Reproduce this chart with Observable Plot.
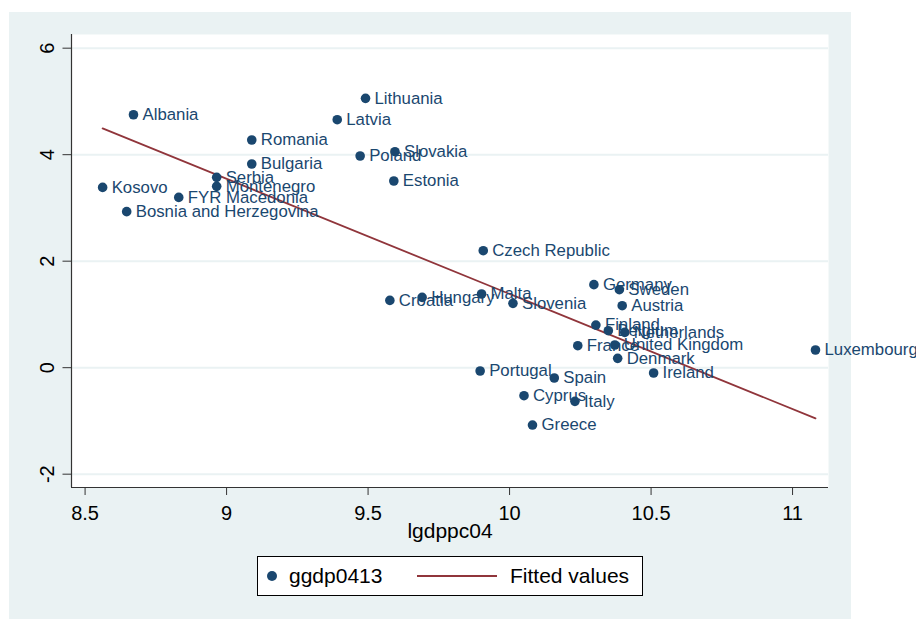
<!DOCTYPE html>
<html><head><meta charset="utf-8">
<script src="https://cdn.jsdelivr.net/npm/d3@7"></script>
<script src="https://cdn.jsdelivr.net/npm/@observablehq/plot@0.6"></script>
<style>
body{margin:0;background:#fff;font-family:"Liberation Sans",Arial,sans-serif;}
#wrap{position:relative;width:916px;height:619px;overflow:hidden;}
#bg{position:absolute;left:9px;top:12px;width:842px;height:607px;background:#eaf2f3;}
#chart{position:absolute;left:0;top:0;}
#legend{position:absolute;left:257px;top:556px;width:386px;height:40px;background:#fff;border:1px solid #000;box-sizing:border-box;font-size:21px;color:#000;}
#legend .dot{position:absolute;left:9px;top:14px;width:10px;height:10px;border-radius:50%;background:#1a476f;}
#legend .t1{position:absolute;left:31px;top:7px;line-height:24px;}
#legend .ln{position:absolute;left:159px;top:18px;width:80px;height:2px;background:#90353b;}
#legend .t2{position:absolute;left:252px;top:7px;line-height:24px;}
</style>
</head><body>
<div id="wrap"><div id="bg"></div><div id="chart"></div>
<div id="legend"><div class="dot"></div><span class="t1">ggdp0413</span><div class="ln"></div><span class="t2">Fitted values</span></div>
</div>
<script>
const countries = ["Albania","Kosovo","Bosnia and Herzegovina","FYR Macedonia","Serbia","Montenegro","Romania","Bulgaria","Lithuania","Latvia","Poland","Slovakia","Estonia","Croatia","Hungary","Czech Republic","Malta","Slovenia","Germany","Sweden","Austria","Finland","Belgium","Netherlands","France","United Kingdom","Denmark","Luxembourg","Portugal","Spain","Ireland","Cyprus","Italy","Greece"];
const lgdppc04 = [8.671,8.562,8.647,8.831,8.965,8.965,9.089,9.089,9.491,9.391,9.472,9.595,9.591,9.577,9.691,9.907,9.901,10.012,10.298,10.388,10.398,10.305,10.349,10.407,10.241,10.372,10.382,11.081,9.896,10.158,10.509,10.051,10.231,10.081];
const ggdp0413 = [4.75,3.386,2.93,3.198,3.574,3.405,4.276,3.825,5.058,4.657,3.975,4.056,3.506,1.264,1.32,2.197,1.384,1.208,1.559,1.465,1.164,0.80,0.695,0.663,0.413,0.426,0.175,0.332,-0.062,-0.194,-0.10,-0.526,-0.632,-1.077];
const fitX = [8.562, 11.081];
const fitY = [4.494, -0.952];
const xTicks = [8.5, 9, 9.5, 10, 10.5, 11];
const yTicks = [-2, 0, 2, 4, 6];

const pts = countries.map((c,i)=>({name:c, x:lgdppc04[i], y:ggdp0413[i]}));
const fit = fitX.map((x,i)=>({x, y:fitY[i]}));
const xDom = [8.452, 11.127], yDom = [-2.25, 6.257];

const plot = Plot.plot({
  width: 916, height: 619,
  marginLeft: 71, marginRight: 88, marginTop: 34, marginBottom: 132,
  style: {background: "transparent", fontFamily: "'Liberation Sans', Arial, sans-serif", overflow: "visible"},
  x: {domain: xDom},
  y: {domain: yDom},
  marks: [
    Plot.frame({fill: "white", stroke: "none"}),
    Plot.gridY(yTicks, {stroke: "#eaf2f3", strokeWidth: 2, strokeOpacity: 1}),
    Plot.ruleX([xDom[0]], {stroke: "#333", strokeWidth: 1.2}),
    Plot.ruleY([yDom[0]], {stroke: "#333", strokeWidth: 1.2}),
    Plot.axisX(xTicks, {tickSize: 8, tickPadding: 10, fontSize: 20, stroke: "#333", fill: "#000", label: null, tickFormat: d => String(d)}),
    Plot.axisY(yTicks, {tickSize: 8.5, stroke: "#333", label: null, tickFormat: () => ""}),
    Plot.text(yTicks, {y: d => d, text: d => String(d), frameAnchor: "left", dx: -24, rotate: -90, textAnchor: "middle", lineAnchor: "middle", fontSize: 20, fill: "#000"}),
    Plot.text(["lgdppc04"], {frameAnchor: "bottom", dy: 44, lineAnchor: "middle", fontSize: 21, fill: "#000", text: d => d}),
    Plot.line(fit, {x: "x", y: "y", stroke: "#90353b", strokeWidth: 1.8}),
    Plot.dot(pts, {x: "x", y: "y", r: 4.8, fill: "#1a476f", stroke: "none"}),
    Plot.text(pts, {x: "x", y: "y", text: "name", textAnchor: "start", dx: 9, fontSize: 16.8, fill: "#1a476f"})
  ]
});
document.getElementById("chart").appendChild(plot);
</script>
</body></html>
